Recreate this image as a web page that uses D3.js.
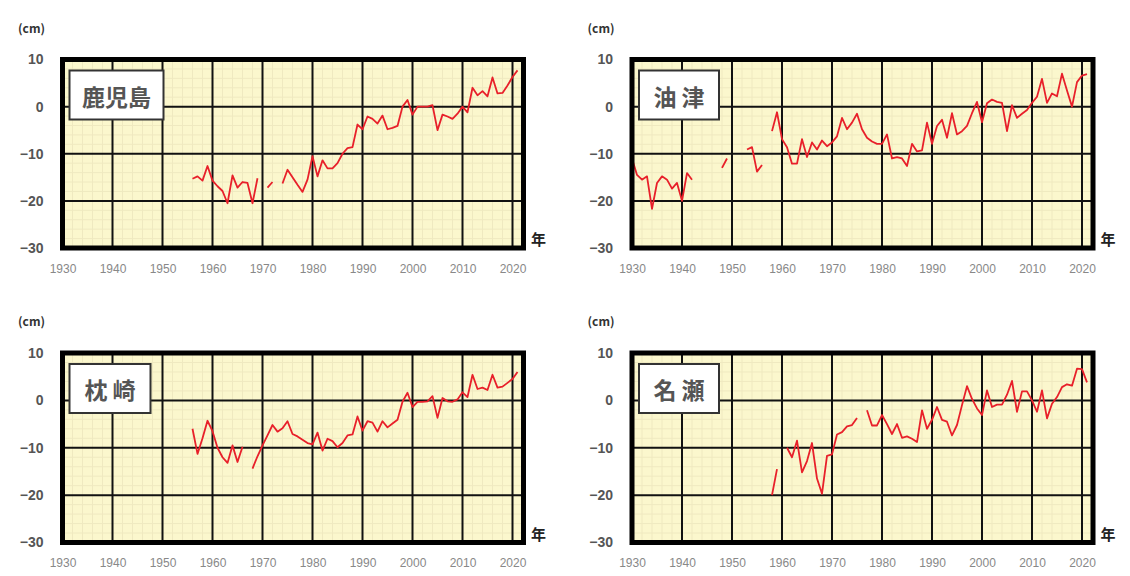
<!DOCTYPE html>
<html>
<head>
<meta charset="utf-8">
<script src="https://cdn.jsdelivr.net/npm/d3@7"></script>
<style>
  body { margin: 0; background: #fff; }
  .ylab text { font-family: "Liberation Sans", Arial, sans-serif; font-size: 14px; font-weight: bold; fill: #555; }
  .xlab text { font-family: "Liberation Sans", Arial, sans-serif; font-size: 12px; fill: #888; }
</style>
</head>
<body>
<div id="chart"></div>
<script>
// 年ごとの平均潮位偏差 (cm)、null は欠測
const xTicks = [1930, 1940, 1950, 1960, 1970, 1980, 1990, 2000, 2010, 2020];
const yTicks = [-30, -20, -10, 0, 10];

const kagoshimaStart = 1956;
const kagoshima = [
  -15.3, -14.8, -15.7, -12.6, -15.7, -16.9, -17.9, -20.5, -14.6, -17.2,
  -16.0, -16.2, -20.5, -15.2, null, -17.2, -16.0, null, -16.3, -13.4,
  -15.0, -16.6, -18.1, -15.5, -10.5, -14.8, -11.4, -13.1, -13.1, -12.0,
  -10.0, -8.8, -8.6, -3.8, -4.8, -2.1, -2.6, -3.6, -1.9, -4.8,
  -4.5, -4.1, 0.0, 1.4, -1.7, 0.0, 0.0, 0.0, 0.3, -5.0,
  -1.7, -2.1, -2.6, -1.5, 0.0, -1.2, 4.0, 2.4, 3.3, 2.2,
  6.2, 2.8, 2.9, 4.5, 6.3, 7.7
];

const aburatsuStart = 1930;
const aburatsu = [
  -11.0, -14.5, -15.5, -14.8, -21.7, -16.2, -14.8, -15.5, -17.4, -16.2,
  -20.0, -14.1, -15.5, null, null, null, null, null, -13.0, -11.0,
  null, null, null, -9.1, -8.6, -13.8, -12.4, null, -5.2, -1.2,
  -6.9, -8.6, -12.1, -12.1, -6.9, -10.7, -7.6, -9.1, -7.2, -8.4,
  -7.6, -6.3, -2.4, -4.8, -3.4, -1.5, -4.8, -6.6, -7.4, -7.9,
  -7.9, -5.9, -11.0, -10.7, -11.0, -12.6, -7.9, -9.5, -9.3, -3.4,
  -7.9, -4.1, -2.8, -6.6, -1.4, -5.9, -5.2, -4.1, -1.4, 1.0,
  -3.3, 0.7, 1.5, 1.0, 0.8, -5.2, 0.3, -2.4, -1.5, -0.7,
  0.8, 2.1, 5.9, 0.8, 2.8, 2.2, 7.0, 3.4, 0.0, 5.2,
  6.6, 6.9
];

const makurazakiStart = 1956;
const makurazaki = [
  -6.0, -11.3, -8.0, -4.3, -6.5, -10.0, -12.0, -13.2, -9.5, -13.0,
  -9.8, null, -14.4, -11.8, -9.5, -7.4, -5.2, -6.6, -5.9, -4.4,
  -7.1, -7.6, -8.3, -9.0, -9.3, -6.8, -10.6, -8.1, -8.6, -9.9,
  -9.0, -7.4, -7.2, -3.4, -6.4, -4.4, -4.7, -6.6, -4.4, -5.7,
  -4.9, -4.1, -0.3, 1.6, -1.4, -0.3, -0.3, -0.2, 0.9, -3.7,
  0.5, -0.2, -0.3, 0.2, 1.7, 0.7, 5.4, 2.4, 2.7, 2.2,
  5.4, 2.7, 2.9, 3.7, 4.5, 6.0
];

const nazeStart = 1958;
const naze = [
  -20.0, -14.5, null, -10.0, -12.0, -8.5, -15.2, -12.8, -9.0, -16.5,
  -19.7, -11.7, -11.4, -7.2, -6.7, -5.5, -5.2, -3.7, null, -2.1,
  -5.3, -5.3, -3.1, -5.0, -7.1, -5.0, -7.9, -7.6, -8.1, -8.8,
  -2.1, -6.0, -4.1, -1.4, -4.1, -4.5, -7.4, -5.2, -1.0, 3.0,
  0.3, -1.7, -3.1, 2.1, -1.4, -0.9, -0.9, 1.2, 4.1, -2.4,
  1.9, 1.9, 0.0, -2.4, 2.1, -3.8, -0.7, 0.7, 2.8, 3.4,
  3.1, 6.7, 6.6, 3.8
];

const stations = [
  { name: "鹿児島", start: kagoshimaStart, values: kagoshima },
  { name: "油 津", start: aburatsuStart, values: aburatsu },
  { name: "枕 崎", start: makurazakiStart, values: makurazaki },
  { name: "名 瀬", start: nazeStart, values: naze }
];

// パネルの位置
const layout = [
  { left: 62.5, top: 59.5, bottom: 248, boxW: 94 },
  { left: 632, top: 59.5, bottom: 248, boxW: 80 },
  { left: 62.5, top: 353, bottom: 542.5, boxW: 81 },
  { left: 632, top: 353, bottom: 542.5, boxW: 80 }
];

const svg = d3.select("#chart").append("svg")
  .attr("width", 1130)
  .attr("height", 576);

stations.forEach((st, i) => {
  const p = layout[i];
  const x = d3.scaleLinear().domain([1930, 2022.2]).range([p.left, p.left + 92.2 * 5]);
  const y = d3.scaleLinear().domain([-30, 10]).range([p.bottom, p.top]);
  const g = svg.append("g");
  const xr = x.range(), yr = y.range();

  // 背景
  g.append("rect")
    .attr("x", xr[0]).attr("y", yr[1])
    .attr("width", xr[1] - xr[0]).attr("height", yr[0] - yr[1])
    .attr("fill", "#fbf7cd");

  // 細かい格子
  g.selectAll(".minx").data(d3.range(1932, 2022, 2).filter(v => v % 10 !== 0))
    .enter().append("line")
    .attr("x1", d => x(d)).attr("x2", d => x(d))
    .attr("y1", yr[1]).attr("y2", yr[0])
    .attr("stroke", "#efe9c0").attr("stroke-width", 1);
  g.selectAll(".miny").data(d3.range(-28, 10, 2).filter(v => v % 10 !== 0))
    .enter().append("line")
    .attr("x1", xr[0]).attr("x2", xr[1])
    .attr("y1", d => y(d)).attr("y2", d => y(d))
    .attr("stroke", "#efe9c0").attr("stroke-width", 1);

  // 主格子
  g.selectAll(".gx").data(xTicks.slice(1))
    .enter().append("line")
    .attr("x1", d => x(d)).attr("x2", d => x(d))
    .attr("y1", yr[1]).attr("y2", yr[0])
    .attr("stroke", "#111").attr("stroke-width", 2);
  g.selectAll(".gy").data(yTicks.slice(1, -1))
    .enter().append("line")
    .attr("x1", xr[0]).attr("x2", xr[1])
    .attr("y1", d => y(d)).attr("y2", d => y(d))
    .attr("stroke", "#111").attr("stroke-width", 2);

  // 折れ線
  const pts = st.values.map((v, k) => ({ year: st.start + k, v: v }));
  const line = d3.line()
    .defined(d => d.v !== null)
    .x(d => x(d.year))
    .y(d => y(d.v));
  g.append("path")
    .datum(pts)
    .attr("d", line)
    .attr("fill", "none")
    .attr("stroke", "#e8202a")
    .attr("stroke-width", 1.8)
    .attr("stroke-linejoin", "round");

  // 外枠
  g.append("rect")
    .attr("x", xr[0]).attr("y", yr[1])
    .attr("width", xr[1] - xr[0]).attr("height", yr[0] - yr[1])
    .attr("fill", "none")
    .attr("stroke", "#000")
    .attr("stroke-width", 5);

  // 地点名
  g.append("rect")
    .attr("x", xr[0] + 7).attr("y", yr[1] + 11)
    .attr("width", p.boxW).attr("height", 49)
    .attr("fill", "#fff")
    .attr("stroke", "#333")
    .attr("stroke-width", 2);
  g.append("text")
    .attr("x", xr[0] + 7 + p.boxW / 2).attr("y", yr[1] + 36)
    .attr("text-anchor", "middle")
    .attr("dominant-baseline", "central")
    .attr("font-family", "'Noto Sans CJK JP', sans-serif")
    .attr("font-size", 23)
    .attr("font-weight", "bold")
    .attr("fill", "#555")
    .text(st.name);

  // 軸
  g.append("g")
    .attr("class", "ylab")
    .attr("transform", `translate(${xr[0]},0)`)
    .call(d3.axisLeft(y).tickValues(yTicks).tickSize(0).tickPadding(19))
    .call(a => a.select(".domain").remove());
  g.append("g")
    .attr("class", "xlab")
    .attr("transform", `translate(0,${yr[0]})`)
    .call(d3.axisBottom(x).tickValues(xTicks).tickFormat(d3.format("d")).tickSize(0).tickPadding(16))
    .call(a => a.select(".domain").remove());

  g.append("text")
    .attr("x", xr[0] - 31).attr("y", yr[1] - 27)
    .attr("text-anchor", "middle")
    .attr("font-family", "'Noto Sans CJK JP', sans-serif")
    .attr("font-size", 12)
    .attr("font-weight", "bold")
    .attr("fill", "#333")
    .text("(cm)");
  g.append("text")
    .attr("x", xr[1] + 15).attr("y", yr[0] - 3)
    .attr("text-anchor", "middle")
    .attr("font-family", "'Noto Sans CJK JP', sans-serif")
    .attr("font-size", 15)
    .attr("font-weight", "bold")
    .attr("fill", "#222")
    .text("年");
});
</script>
</body>
</html>
